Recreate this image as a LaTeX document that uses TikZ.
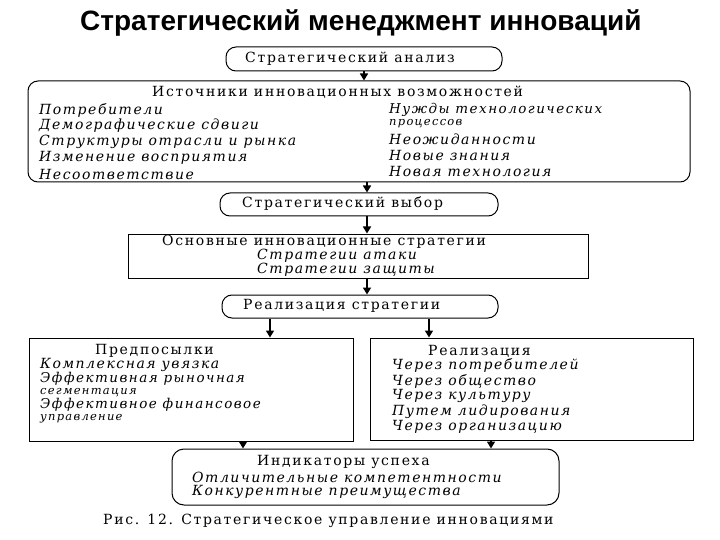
\documentclass[tikz,border=0pt]{standalone}
\usepackage{fontspec}
\usetikzlibrary{arrows.meta}
\setmainfont{DejaVu Serif}
\newfontfamily\rf[LetterSpace=12]{DejaVu Serif}
\newfontfamily\rfi[LetterSpace=11,UprightFont=* Italic]{DejaVu Serif}
\newfontfamily\ttl{Liberation Sans}
\tikzset{
  rbox/.style={draw, line width=1pt, rounded corners=10pt, inner sep=0pt},
  sbox/.style={draw, line width=1pt, inner sep=0pt},
  arr/.style={-{Triangle[width=8pt,length=7pt]}, line width=1.6pt},
  up/.style={font=\rf\fontsize{14}{14}\selectfont, anchor=west, inner sep=0pt},
  it/.style={font=\rfi\fontsize{14}{14}\selectfont, anchor=west, inner sep=0pt},
  itm/.style={font=\rfi\fontsize{13.5}{13.5}\selectfont, anchor=west, inner sep=0pt},
  its/.style={font=\rfi\fontsize{11.5}{11.5}\selectfont, anchor=west, inner sep=0pt},
}
\begin{document}
\begin{tikzpicture}[x=1pt,y=-1pt]
\useasboundingbox[fill=white] (0,0) rectangle (720,540);
% title
\node[font=\ttl\bfseries\fontsize{28}{28}\selectfont, anchor=west, inner sep=0pt] (title) at (80,23) {Стратегический менеджмент инноваций};
% boxes
\node[rbox, minimum width=276pt, minimum height=24pt] (b1) at (364,59) {};
\node[rbox, minimum width=662pt, minimum height=101pt] (b2) at (359,131.5) {};
\node[rbox, minimum width=278pt, minimum height=23pt] (b3) at (359,204.5) {};
\node[sbox, minimum width=460pt, minimum height=44pt] (b4) at (358,256) {};
\node[rbox, minimum width=276pt, minimum height=23pt] (b5) at (360,306.5) {};
\node[sbox, minimum width=324pt, minimum height=103pt] (bl) at (191,389.5) {};
\node[sbox, minimum width=323pt, minimum height=102pt] (br) at (531.5,389) {};
\node[rbox, rounded corners=12pt, minimum width=387pt, minimum height=56pt] (b6) at (365.5,477) {};
% arrow columns
\coordinate (xa) at (364,0);
\coordinate (xb) at (367,0);
\coordinate (xl) at (270,0);
\coordinate (xr) at (429,0);
\coordinate (xl2) at (243,0);
\coordinate (xr2) at (491,0);
\draw[arr] (b1.south -| xa) -- (b2.north -| xa);
\draw[arr] (b2.south -| xb) -- (b3.north -| xb);
\draw[arr] (b3.south -| xb) -- (b4.north -| xb);
\draw[arr] (b4.south -| xb) -- (b5.north -| xb);
\draw[arr] (b5.south -| xl) -- (bl.north -| xl);
\draw[arr] (b5.south -| xr) -- (br.north -| xr);
\draw[arr] (bl.south -| xl2) -- (b6.north -| xl2);
\draw[arr] (br.south -| xr2) -- (b6.north -| xr2);
% texts
\node[up] (t1) at (245,59) {Стратегический анализ};
\node[up] (t2) at (152,92) {Источники инновационных возможностей};
\node[it] (l1) at (39,110) {Потребители};
\node[it] (l2) at (39,126) {Демографические сдвиги};
\node[it] (l3) at (39,142) {Структуры отрасли и рынка};
\node[it] (l4) at (39,158) {Изменение восприятия};
\node[it] (l5) at (39,174) {Несоответствие};
\node[itm] (r1) at (389,110) {Нужды технологических};
\node[its] (r2) at (389,124) {процессов};
\node[it] (r3) at (389,139) {Неожиданности};
\node[it] (r4) at (389,155) {Новые знания};
\node[it] (r5) at (389,171) {Новая технология};
\node[up] (t3) at (242,204) {Стратегический выбор};
\node[up] (t4) at (162,242) {Основные инновационные стратегии};
\node[it] (s1) at (257,256) {Стратегии атаки};
\node[it] (s2) at (257,270) {Стратегии защиты};
\node[up] (t5) at (243,306) {Реализация стратегии};
\node[up] (tl) at (95,351) {Предпосылки};
\node[it] (p1) at (40,365) {Комплексная увязка};
\node[itm] (p2) at (40,379) {Эффективная рыночная};
\node[its] (p3) at (40,393) {сегментация};
\node[itm] (p4) at (40,405) {Эффективное финансовое};
\node[its] (p5) at (40,419) {управление};
\node[up] (tr) at (428,351) {Реализация};
\node[it] (q1) at (392,365) {Через потребителей};
\node[it] (q2) at (392,381) {Через общество};
\node[it] (q3) at (392,396) {Через культуру};
\node[it] (q4) at (392,412) {Путем лидирования};
\node[it] (q5) at (392,427) {Через организацию};
\node[up] (t6) at (257,462) {Индикаторы успеха};
\node[it] (i1) at (192,477) {Отличительные компетентности};
\node[it] (i2) at (192,492) {Конкурентные преимущества};
\node[up] (cap) at (103,521) {Рис. 12. Стратегическое управление инновациями};
\end{tikzpicture}
\end{document}
